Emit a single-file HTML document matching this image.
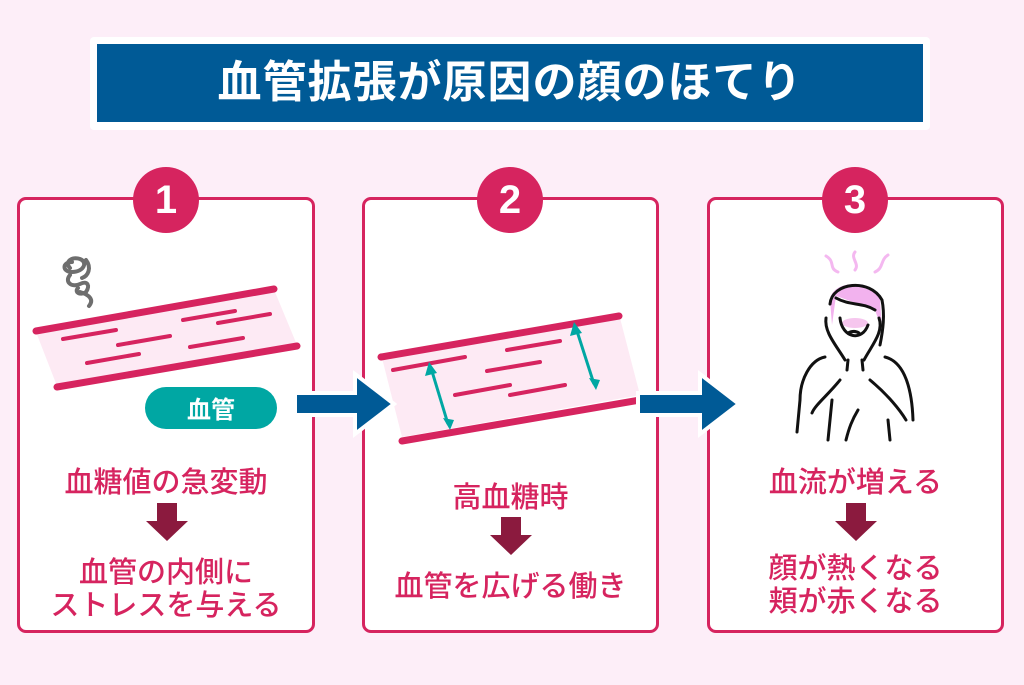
<!DOCTYPE html>
<html><head><meta charset="utf-8"><style>
body{margin:0;width:1024px;height:685px;background:#fdeef8;position:relative;overflow:hidden;font-family:"Liberation Sans","Noto Sans CJK JP",sans-serif}
.t{position:absolute;left:90px;top:37px;width:840px;height:93px;background:#fff;border-radius:4px}
.t div{position:absolute;left:7px;top:7px;right:7px;bottom:8px;background:#005a96;color:#fff;font-size:44px;font-weight:bold;text-align:center;line-height:78px;letter-spacing:1px}
.p{position:absolute;top:197px;height:436px;background:#fff;border:3px solid #d6245f;border-radius:9px;box-sizing:border-box}
.n{position:absolute;top:167px;width:66px;height:66px;border-radius:50%;background:#d6245f;color:#fff;font-size:40px;font-weight:bold;text-align:center;line-height:66px}
.tx{position:absolute;color:#d6245f;font-size:29px;text-align:center;line-height:33px;font-weight:500}
svg{position:absolute;left:0;top:0}
</style></head><body>
<div class="t"><div>血管拡張が原因の顔のほてり</div></div>
<div class="p" style="left:17px;width:298px"></div>
<div class="p" style="left:362px;width:297px"></div>
<div class="p" style="left:707px;width:297px"></div>
<div class="n" style="left:133px">1</div>
<div class="n" style="left:477px">2</div>
<div class="n" style="left:822px">3</div>
<svg width="1024" height="685">
<polygon points="36,332 275,292 297,345 57,386" fill="#fdeaf4"/>
<g stroke="#d6245f" stroke-linecap="round" fill="none">
<line x1="36" y1="331" x2="274" y2="289" stroke-width="7"/>
<line x1="57" y1="387" x2="297" y2="346" stroke-width="7"/>
<g stroke-width="4"><line x1="63" y1="339" x2="116" y2="330"/><line x1="118" y1="345" x2="170" y2="336"/><line x1="183" y1="320" x2="235" y2="311"/><line x1="218" y1="323" x2="270" y2="314"/><line x1="87" y1="363" x2="139" y2="354"/><line x1="190" y1="347" x2="243" y2="338"/></g>
</g>
<g stroke="#6e6e6e" stroke-width="4" fill="none" stroke-linecap="round">
<path d="M86,260 C92,268 88,276 82,278 M72,262 C62,262 62,272 72,272 C84,272 88,262 80,259 C72,256 64,262 70,268"/>
<path d="M70,275 C64,282 72,288 80,284 C88,280 90,286 86,292 C80,296 74,292 78,288"/>
<path d="M80,292 C90,295 94,300 89,306"/>
</g>
<rect x="145" y="387" width="132" height="42" rx="21" fill="#00a7a3"/>
<text x="211" y="418" fill="#fff" font-size="24" font-weight="bold" text-anchor="middle">血管</text>
<polygon points="382,358 620,318 640,395 402,437" fill="#fdeaf4"/>
<g stroke="#d6245f" stroke-linecap="round" fill="none">
<line x1="381" y1="357" x2="619" y2="316" stroke-width="7"/>
<line x1="402" y1="441" x2="640" y2="400" stroke-width="7"/>
<g stroke-width="4"><line x1="393" y1="370" x2="465" y2="357"/><line x1="507" y1="350" x2="560" y2="341"/><line x1="487" y1="371" x2="540" y2="362"/><line x1="455" y1="395" x2="510" y2="385"/><line x1="510" y1="395" x2="565" y2="385"/></g>
</g>
<g stroke="#00a7a3" stroke-width="3" fill="#00a7a3">
<line x1="431" y1="368" x2="448" y2="424"/><line x1="576" y1="328" x2="594" y2="384"/>
<polygon points="429,362 425,376 437,373" stroke="none"/><polygon points="450,430 443,418 454,420" stroke="none"/>
<polygon points="574,322 570,336 582,333" stroke="none"/><polygon points="596,390 589,378 600,380" stroke="none"/>
</g>
<polygon points="295,393 355,393 355,374 394,404 355,434 355,415 295,415" fill="#005a96" stroke="#fff" stroke-width="4"/>
<polygon points="638,393 700,393 700,374 739,404 700,434 700,415 638,415" fill="#005a96" stroke="#fff" stroke-width="4"/>
<polygon points="157,503 177,503 177,521 188,521 167,541 146,521 157,521" fill="#8b1a3e"/>
<polygon points="501,517 521,517 521,535 532,535 511,555 490,535 501,535" fill="#8b1a3e"/>
<polygon points="846,503 866,503 866,521 877,521 856,541 835,521 846,521" fill="#8b1a3e"/>
<g fill="none" stroke="#f4b8f0" stroke-width="3" stroke-linecap="round"><path d="M826,256 C836,262 828,268 838,272"/><path d="M855,252 C850,258 860,264 855,270"/><path d="M888,255 C880,260 884,268 875,272"/></g>
<path d="M830,300 C832,280 870,278 880,300 L882,330 L875,310 C860,305 848,300 836,296 L832,325 Z" fill="#f2b2ee"/>
<ellipse cx="855" cy="323" rx="13" ry="5" fill="#f6c6ee"/>
<g fill="none" stroke="#111" stroke-width="3" stroke-linecap="round">
<path d="M830,304 C832,282 870,278 882,300 C885,315 883,330 880,345"/>
<path d="M836,298 C850,306 862,302 875,310"/>
<path d="M840,318 C842,338 862,342 868,325"/>
<path d="M848,333 C852,331 856,331 859,333"/>
<path d="M826,318 C824,332 836,345 845,360"/>
<path d="M879,318 C884,332 872,345 864,360"/>
<path d="M848,360 L847,370 M862,360 L863,370"/>
<path d="M825,357 C810,360 800,380 800,400 L797,432"/>
<path d="M885,357 C905,362 912,390 913,420"/>
<path d="M840,380 C828,395 815,405 812,413"/>
<path d="M870,380 C888,395 900,410 906,420"/>
<path d="M858,410 C852,420 849,428 846,440 M832,400 L828,440 M888,420 L890,440"/>
</g>
</svg>
<div class="tx" style="left:17px;width:298px;top:467px">血糖値の急変動</div>
<div class="tx" style="left:17px;width:298px;top:557px">血管の内側に<br>ストレスを与える</div>
<div class="tx" style="left:362px;width:297px;top:482px">高血糖時</div>
<div class="tx" style="left:362px;width:297px;top:571px">血管を広げる働き</div>
<div class="tx" style="left:707px;width:297px;top:467px">血流が増える</div>
<div class="tx" style="left:707px;width:297px;top:553px">顔が熱くなる<br>頬が赤くなる</div>
</body></html>
